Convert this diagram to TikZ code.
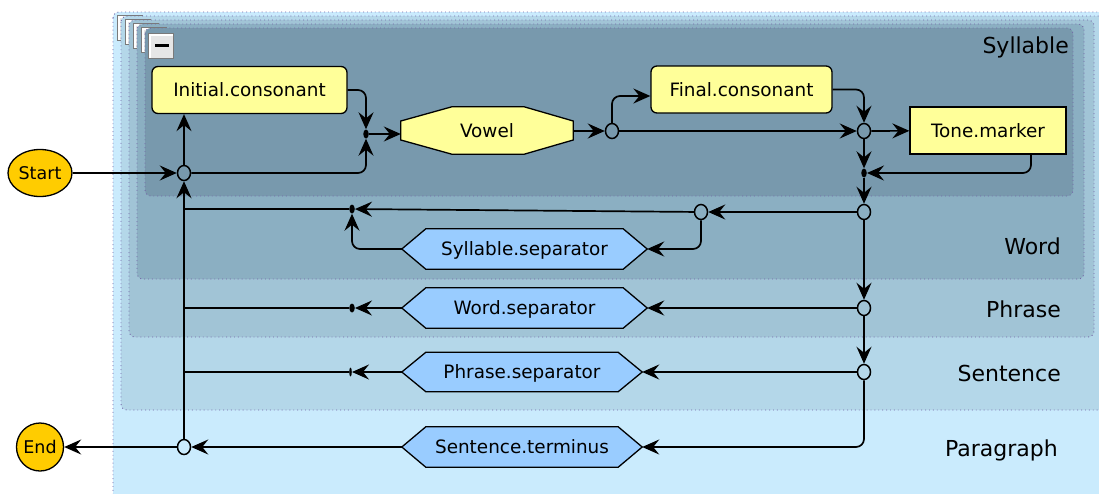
\documentclass[tikz,border=0pt]{standalone}
\usepackage{fontspec}
\setmainfont{DejaVu Sans}
\usetikzlibrary{arrows.meta,shapes.geometric,calc}
\pgfdeclarelayer{layerbg}
\pgfdeclarelayer{shapebg}
\pgfsetlayers{layerbg,shapebg,main}

\definecolor{parcol}{HTML}{CAEBFD}
\definecolor{sencol}{HTML}{B4D7E9}
\definecolor{phrcol}{HTML}{A1C4D6}
\definecolor{wrdcol}{HTML}{8BAFC2}
\definecolor{sylcol}{HTML}{7899AD}
\definecolor{framecol}{HTML}{7466A8}
\definecolor{termyel}{HTML}{FFFF99}
\definecolor{sepblue}{HTML}{99CCFF}
\definecolor{endgold}{HTML}{FFCC00}
\definecolor{btnface}{HTML}{E6E6E6}
\definecolor{btnedge}{HTML}{7A7A7A}

% collapse button drawn at the top-left corner of a grouping layer
\newcommand\collapsebtn[2]{%
  \fill[btnedge] (#1,#2) rectangle ++(26,26);
  \fill[white] (#1+1.2,#2+1.2) rectangle ++(23.6,23.6);
  \fill[btnface] (#1+2.6,#2+2.6) rectangle ++(22.2,22.2);
}
% grouping layer: filled rounded box with dotted frame
\newcommand\grouplayer[5]{%
  \fill[#1, rounded corners=6pt] (#2,#3) rectangle (#4,#5);
  \draw[layerframe] (#2,#3) rectangle (#4,#5);
}
% pointed separator outline around a named text node
\newcommand\hexfill[1]{%
  \draw[shapeline, fill=sepblue] (#1.west) -- ($(#1.north west)+(24,0)$)
    -- ($(#1.north east)+(-24,0)$) -- (#1.east)
    -- ($(#1.south east)+(-24,0)$) -- ($(#1.south west)+(24,0)$) -- cycle;
}

\begin{document}
\begin{tikzpicture}[x=1pt,y=-1pt,
  every node/.style={font=\fontsize{18.4}{22}\selectfont, inner sep=0pt},
  layerframe/.style={draw=framecol, line width=0.9pt, dash pattern=on 0.9pt off 3pt, rounded corners=6pt},
  shapeline/.style={draw=black, line width=1.3pt},
  capstext/.style={text height=13.4pt, text depth=0pt},
  term/.style={capstext, rectangle, shapeline, fill=termyel, rounded corners=6pt, minimum height=47pt},
  tmbox/.style={capstext, rectangle, shapeline, fill=termyel, minimum height=47pt},
  polytext/.style={capstext, rectangle, draw=none},
  junc/.style={ellipse, draw, line width=1.5pt, minimum width=13pt, minimum height=15pt},
  dotj/.style={ellipse, fill=black, minimum width=5.5pt, minimum height=9pt},
  tickj/.style={ellipse, fill=black, minimum width=2.6pt, minimum height=9pt},
  endpt/.style={ellipse, shapeline, fill=endgold, font=\fontsize{17.5}{21}\selectfont},
  conn/.style={line width=1.7pt, rounded corners=8pt},
  arr/.style={conn, -{Stealth[length=17pt,width=15pt,inset=6pt]}},
  laylbl/.style={font=\fontsize{22}{26}\selectfont, anchor=base east},
]
\useasboundingbox (0,0) rectangle (1099,493);

% ---------- nested grouping layers ----------
\begin{pgfonlayer}{layerbg}
  \fill[white] (0,0) rectangle (1099,493);
  \clip (0,0) rectangle (1099,493);
  \grouplayer{parcol}{113}{12}{1120}{520}
  \collapsebtn{117}{15}
  \grouplayer{sencol}{121}{16}{1110}{410}
  \collapsebtn{125}{19}
  \grouplayer{phrcol}{129}{20}{1094}{337}
  \collapsebtn{133}{23}
  \grouplayer{wrdcol}{137}{24}{1084}{279}
  \collapsebtn{141}{27}
  \grouplayer{sylcol}{145}{28}{1073}{196}
  \collapsebtn{148}{33}
  \fill[black] (155,43.8) rectangle (168.5,47.2);
\end{pgfonlayer}

% ---------- layer labels ----------
\node[laylbl] (lsyl) at (1069,53) {Syllable};
\node[laylbl] (lwrd) at (1061,254) {Word};
\node[laylbl] (lphr) at (1061,317) {Phrase};
\node[laylbl] (lsen) at (1061,381) {Sentence};
\node[laylbl] (lpar) at (1058,456) {Paragraph};

% ---------- terminals ----------
\node[endpt, minimum width=64pt, minimum height=47pt] (start) at (40,173) {Start};
\node[endpt, minimum width=46pt, minimum height=48pt] (end) at (40,447) {End};

\node[term, minimum width=195pt] (ic) at (249.5,90) {Initial.consonant};
\node[term, minimum width=181pt] (fc) at (741.5,89.5) {Final.consonant};
\node[tmbox, minimum width=156pt] (tm) at (988,130.5) {Tone.marker};
\node[polytext, minimum width=172pt, minimum height=47pt] (vowel) at (487,130.5) {Vowel};

\node[polytext, minimum width=245pt, minimum height=40pt] (ss) at (524.5,249) {Syllable.separator};
\node[polytext, minimum width=245pt, minimum height=40pt] (ws) at (524.5,308) {Word.separator};
\node[polytext, minimum width=240pt, minimum height=39pt] (ps) at (522,372) {Phrase.separator};
\node[polytext, minimum width=240pt, minimum height=40pt] (st) at (522,447) {Sentence.terminus};

\begin{pgfonlayer}{shapebg}
  \draw[shapeline, fill=termyel]
    ($(vowel.west)+(0,-9.5)$) -- ($(vowel.north west)+(51,0)$)
    -- ($(vowel.north east)+(-49,0)$) -- ($(vowel.east)+(0,-9.5)$)
    -- ($(vowel.east)+(0,9.5)$) -- ($(vowel.south east)+(-49,0)$)
    -- ($(vowel.south west)+(51,0)$) -- ($(vowel.west)+(0,9.5)$) -- cycle;
  \hexfill{ss}
  \hexfill{ws}
  \hexfill{ps}
  \hexfill{st}
\end{pgfonlayer}

% ---------- junctions ----------
\node[junc] (j1) at (184,173) {};
\node[junc] (j2) at (612,131) {};
\node[junc] (j3) at (864,131) {};
\node[junc] (j4) at (864,212) {};
\node[junc] (j5) at (701,212) {};
\node[junc] (j6) at (864,308) {};
\node[junc] (j7) at (864,372) {};
\node[junc] (j8) at (184,447) {};
\node[dotj] (d1) at (366,134) {};
\node[dotj] (d2) at (864,173) {};
\node[dotj] (d3) at (352,209) {};
\node[dotj] (d4) at (352,308) {};
\node[tickj] (d5) at (350.5,372) {};
\coordinate (fcin) at ([yshift=-6.5pt]fc.west);

% ---------- syllable ----------
\draw[arr] (start) -- (j1);
\draw[arr] (j1) -- (j1 |- ic.south);
\draw[arr] (j1) -- (j1 -| d1) -- (d1);
\draw[arr] (ic.east) -- (ic.east -| d1) -- (d1);
\draw[arr] (d1) -- (d1 -| vowel.west);
\draw[arr] (vowel.east |- j2) -- (j2);
\draw[arr] (j2) -- (j2 |- fcin) -- (fcin);
\draw[arr] (j2) -- (j3);
\draw[arr] (fc.east) -- (fc.east -| j3) -- (j3);
\draw[arr] (j3) -- (tm);
\draw[arr] (j3) -- (d2);
\draw[arr] ([xshift=43pt]tm.south) |- (d2);
\draw[arr] (d2) -- (j4);

% ---------- word ----------
\draw[arr] (j4) -- (j5);
\draw[arr] (j5) -- (d3);
\draw[arr] (j5) |- (ss.east);
\draw[arr] (ss.west) -| (d3);
\draw[conn] (d3) -- (d3 -| j1);

% ---------- phrase ----------
\draw[arr] (j4) -- (j6);
\draw[arr] (j6) -- (ws.east);
\draw[arr] (ws.west) -- (d4);
\draw[conn] (d4) -- (d4 -| j1);

% ---------- sentence ----------
\draw[arr] (j6) -- (j7);
\draw[arr] (j7) -- (ps.east);
\draw[arr] (ps.west) -- (d5);
\draw[conn] (d5) -- (d5 -| j1);

% ---------- paragraph ----------
\draw[arr] (j7) |- (st.east);
\draw[arr] (st.west) -- (j8);
\draw[arr] (j8) -- (end);
\draw[arr] (j8) -- (j1);
\end{tikzpicture}
\end{document}
